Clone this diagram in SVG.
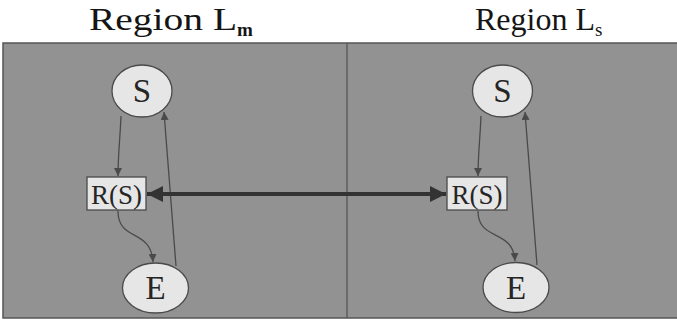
<svg xmlns="http://www.w3.org/2000/svg" width="677" height="322" viewBox="0 0 677 322">
  <style>
    .title { font-family: "Liberation Serif", "Times New Roman", serif; font-size: 32px; fill: #151515; }
    .sub { font-size: 19px; }
    .node { fill: #e6e6e6; stroke: #4a4a4a; stroke-width: 1.3; }
    .label { font-family: "Liberation Serif", "Times New Roman", serif; fill: #252525; text-anchor: middle; }
    .edge { fill: none; stroke: #4a4a4a; stroke-width: 1.3; }
    .link { fill: none; stroke: #333333; stroke-width: 4; }
  </style>
  <defs>
    <marker id="tip" viewBox="0 0 10 10" refX="10" refY="5" markerWidth="8" markerHeight="8" markerUnits="userSpaceOnUse" orient="auto">
      <path d="M0,0 L10,5 L0,10 Z" fill="#4a4a4a"/>
    </marker>
    <marker id="bigtip" viewBox="0 0 10 10" refX="10" refY="5" markerWidth="19" markerHeight="16" markerUnits="userSpaceOnUse" orient="auto-start-reverse">
      <path d="M0,0 L10,5 L0,10 Z" fill="#333333"/>
    </marker>
  </defs>

  <rect width="677" height="322" fill="#ffffff"/>

  <!-- headings -->
  <text class="title" x="89" y="30"><tspan textLength="148" lengthAdjust="spacingAndGlyphs">Region L</tspan><tspan class="sub" font-weight="bold" dy="6">m</tspan></text>
  <text class="title" x="475" y="30" font-size="31">Region L<tspan class="sub" dy="6">s</tspan></text>

  <!-- the two regions -->
  <g id="regions">
    <rect x="3" y="43" width="680" height="275" fill="#929292" stroke="#555555" stroke-width="1.5"/>
    <line x1="347" y1="43" x2="347" y2="318" stroke="#555555" stroke-width="1.3"/>
  </g>

  <g id="connectors">
    <!-- region Lm -->
    <path class="edge" d="M121,116 C120,140 118,155 118,176" marker-end="url(#tip)"/>
    <path class="edge" d="M118,211 C118,242 151,228 153,262" marker-end="url(#tip)"/>
    <path class="edge" d="M176,266 L164,112" marker-end="url(#tip)"/>
    <!-- region Ls -->
    <path class="edge" d="M481,116 C480,140 478,155 478,176" marker-end="url(#tip)"/>
    <path class="edge" d="M478,211 C478,242 513,228 515,261" marker-end="url(#tip)"/>
    <path class="edge" d="M537,265 L525,112" marker-end="url(#tip)"/>
    <!-- coupling between regions -->
    <path class="link" d="M147,194 L446,194" marker-start="url(#bigtip)" marker-end="url(#bigtip)"/>
  </g>

  <g id="S-m">
    <ellipse class="node" cx="142" cy="91" rx="30" ry="26"/>
    <text class="label" x="142" y="102" font-size="33">S</text>
  </g>
  <g id="R-m">
    <rect class="node" x="87" y="177" width="59" height="33"/>
    <text class="label" x="116.5" y="203.5" font-size="27">R(S)</text>
  </g>
  <g id="E-m">
    <ellipse class="node" cx="155.5" cy="288" rx="33" ry="25"/>
    <text class="label" x="155.5" y="299" font-size="33">E</text>
  </g>

  <g id="S-s">
    <ellipse class="node" cx="502.5" cy="91" rx="30" ry="26"/>
    <text class="label" x="502.5" y="102" font-size="33">S</text>
  </g>
  <g id="R-s">
    <rect class="node" x="447" y="177" width="60" height="33"/>
    <text class="label" x="477" y="203.5" font-size="27">R(S)</text>
  </g>
  <g id="E-s">
    <ellipse class="node" cx="516" cy="287.5" rx="33" ry="25"/>
    <text class="label" x="516" y="298.5" font-size="33">E</text>
  </g>
</svg>
